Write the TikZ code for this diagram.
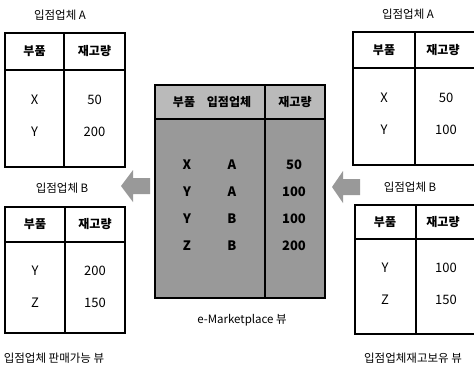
\documentclass[tikz,border=0pt]{standalone}
\usepackage{fontspec}
\setmainfont{Noto Sans CJK KR}
\begin{document}
\begin{tikzpicture}[x=1pt,y=-1pt,
  lbl/.style={font=\fontsize{11.5}{13}\selectfont, inner sep=0pt},
  hdr/.style={font=\bfseries\fontsize{12}{14}\selectfont, inner sep=0pt},
  val/.style={font=\fontsize{13}{15}\selectfont, inner sep=0pt},
  cval/.style={font=\bfseries\fontsize{13}{15}\selectfont, inner sep=0pt},
  tbl/.style={draw, line width=1.2pt, fill=white},
  grid/.style={line width=1.2pt},
  arrowfill/.style={fill=black!40}]
\useasboundingbox (0,0) rectangle (474,368);
\clip (0,0) rectangle (474,368);

% ---------- left table A ----------
\node[lbl] (lA) at (60,15) {입점업체 A};
\draw[tbl] (5,33) rectangle (125,167);
\draw[grid] (5,70) -- (125,70) (64,33) -- (64,167);
\node[hdr] (lAh1) at (34.5,51.5) {부품};
\node[hdr] (lAh2) at (94.5,51.5) {재고량};
\node[val] (lAx) at (34.5,100) {X};
\node[val] (lAxv) at (94.5,100) {50};
\node[val] (lAy) at (34.5,132) {Y};
\node[val] (lAyv) at (94.5,132) {200};

% ---------- left table B ----------
\node[lbl] (lB) at (62,188) {입점업체 B};
\draw[tbl] (5,207) rectangle (125,333);
\draw[grid] (5,242) -- (125,242) (65,207) -- (65,333);
\node[hdr] (lBh1) at (35,224.5) {부품};
\node[hdr] (lBh2) at (95,224.5) {재고량};
\node[val] (lBy) at (35,271) {Y};
\node[val] (lByv) at (95,271) {200};
\node[val] (lBz) at (35,303) {Z};
\node[val] (lBzv) at (95,303) {150};
\node[lbl] (lcap) at (54,358) {입점업체 판매가능 뷰};

% ---------- central table ----------
\fill[black!40] (155,119) rectangle (325,298);
\fill[black!27] (155,85) rectangle (325,119);
\draw[line width=1.4pt] (155,85) rectangle (325,298);
\draw[grid] (155,119) -- (325,119) (265,85) -- (265,298);
\node[hdr] (ch1) at (184,102) {부품};
\node[hdr] (ch2) at (229,102) {입점업체};
\node[hdr] (ch3) at (295,102) {재고량};
\node[cval] (c1a) at (187,165) {X};
\node[cval] (c1b) at (232,165) {A};
\node[cval] (c1c) at (294,165) {50};
\node[cval] (c2a) at (187,192) {Y};
\node[cval] (c2b) at (232,192) {A};
\node[cval] (c2c) at (294,192) {100};
\node[cval] (c3a) at (187,219) {Y};
\node[cval] (c3b) at (232,219) {B};
\node[cval] (c3c) at (294,219) {100};
\node[cval] (c4a) at (187,246) {Z};
\node[cval] (c4b) at (232,246) {B};
\node[cval] (c4c) at (294,246) {200};
\node[lbl] (ccap) at (242,320) {e-Marketplace 뷰};

% ---------- right table A ----------
\node[lbl] (rA) at (408,14) {입점업체 A};
\draw[tbl] (353,32) rectangle (480,165);
\draw[grid] (353,68) -- (480,68) (415,32) -- (415,165);
\node[hdr] (rAh1) at (384,50) {부품};
\node[hdr] (rAh2) at (443,50) {재고량};
\node[val] (rAx) at (384,98) {X};
\node[val] (rAxv) at (446,98) {50};
\node[val] (rAy) at (384,130) {Y};
\node[val] (rAyv) at (446,130) {100};

% ---------- right table B ----------
\node[lbl] (rB) at (410,187) {입점업체 B};
\draw[tbl] (355,205) rectangle (480,334);
\draw[grid] (355,239) -- (480,239) (416,205) -- (416,334);
\node[hdr] (rBh1) at (385,222) {부품};
\node[hdr] (rBh2) at (443,222) {재고량};
\node[val] (rBy) at (385,268) {Y};
\node[val] (rByv) at (446,268) {100};
\node[val] (rBz) at (385,300) {Z};
\node[val] (rBzv) at (446,300) {150};
\node[lbl] (rcap) at (413,358) {입점업체재고보유 뷰};

% ---------- block arrows ----------
\coordinate (arrL) at (121,186);
\coordinate (arrR) at (332,187);
\fill[arrowfill] (arrL) -- ++(12,-16) -- ++(0,8) -- ++(17,0) -- ++(0,16)
  -- ++(-17,0) -- ++(0,8) -- cycle;
\fill[arrowfill] (arrR) -- ++(11,-16) -- ++(0,8) -- ++(17,0) -- ++(0,16)
  -- ++(-17,0) -- ++(0,8) -- cycle;
\end{tikzpicture}
\end{document}
